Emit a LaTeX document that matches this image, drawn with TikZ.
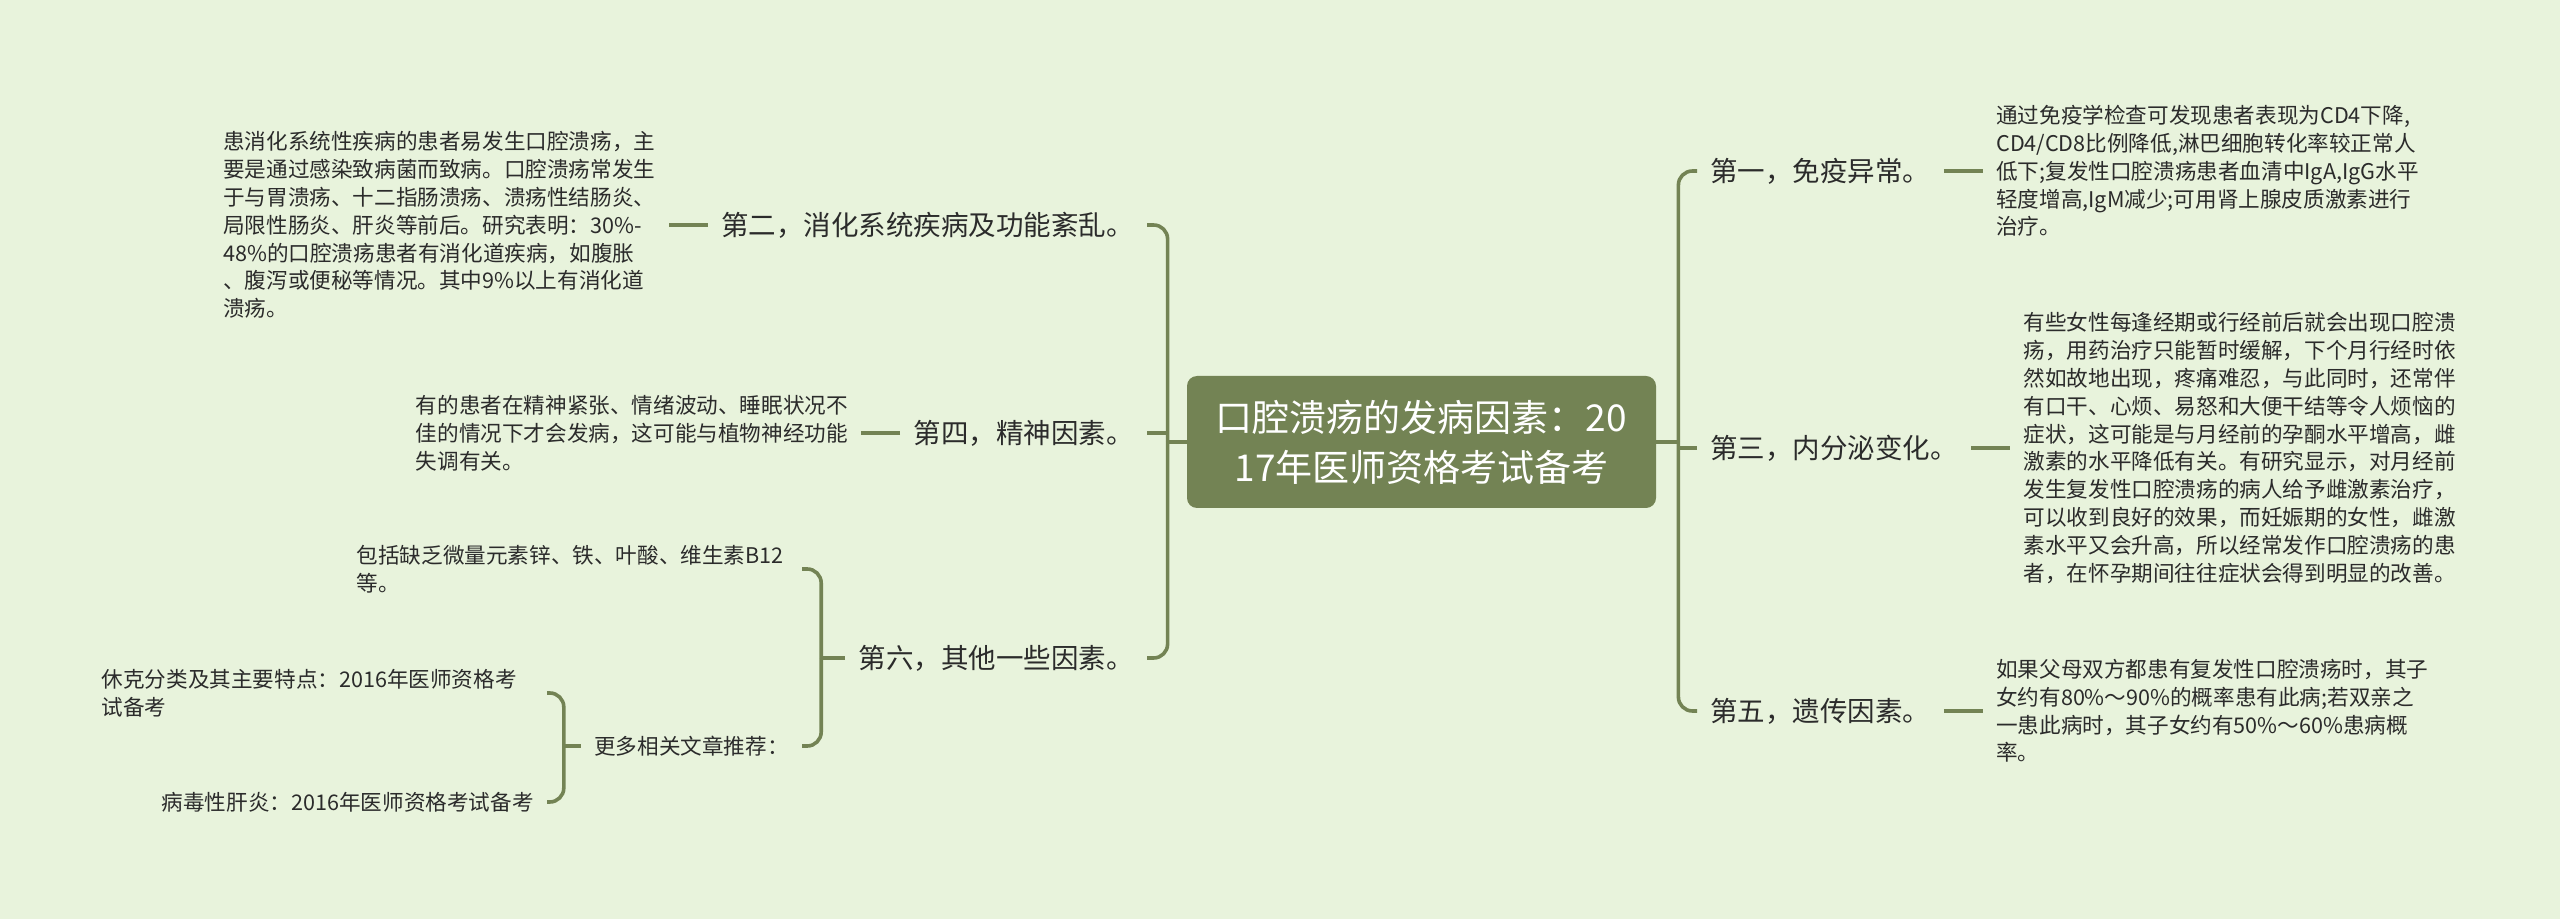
\documentclass[tikz,border=0pt]{standalone}
\usepackage{fontspec}
\setmainfont{Noto Sans CJK SC}
\usetikzlibrary{positioning}
\definecolor{mapbg}{HTML}{E8F3DC}
\definecolor{mapline}{HTML}{738354}
\definecolor{maptext}{HTML}{2B2B2B}

\begin{document}
\begin{tikzpicture}[x=0.5pt,y=-0.5pt,
  every node/.style={text=maptext},
  root/.style={fill=mapline, rounded corners=5pt, text=white, align=center,
    minimum width=234.5pt, minimum height=66pt, font=\fontsize{18.5}{25}\selectfont},
  topic/.style={inner xsep=6.5pt, inner ysep=3pt, font=\fontsize{13.75}{17}\selectfont},
  leaf/.style={inner xsep=6.5pt, inner ysep=2pt, text width=216pt, align=left,
    font=\fontsize{10.8}{13.9}\selectfont},
  note/.style={inner xsep=6.5pt, inner ysep=2pt, font=\fontsize{10.8}{13.9}\selectfont},
  link/.style={draw=mapline, line width=1.8pt, rounded corners=7pt}]
  \fill[mapbg] (0,0) rectangle (2560,919);
  \useasboundingbox (0,0) rectangle (2560,919);

  \node[root] (root) at (1421.5,442) {口腔溃疡的发病因素：20\\17年医师资格考试备考};
  \coordinate (lsp) at ([xshift=-9.5pt]root.west);
  \coordinate (rsp) at ([xshift=11pt]root.east);

  \node[topic, anchor=east] (b2) at (1147,225) {第二，消化系统疾病及功能紊乱。};
  \node[topic, anchor=east] (b4) at (1147,433) {第四，精神因素。};
  \node[topic, anchor=east] (b6) at (1147,658) {第六，其他一些因素。};
  \node[topic, anchor=west] (r1) at (1697,171) {第一，免疫异常。};
  \node[topic, anchor=west] (r3) at (1697,448) {第三，内分泌变化。};
  \node[topic, anchor=west] (r5) at (1697,711) {第五，遗传因素。};

  \node[leaf, left=19.5pt of b2] (b2t) {患消化系统性疾病的患者易发生口腔溃疡，主\\要是通过感染致病菌而致病。口腔溃疡常发生\\于与胃溃疡、十二指肠溃疡、溃疡性结肠炎、\\局限性肠炎、肝炎等前后。研究表明：30\%-\\48\%的口腔溃疡患者有消化道疾病，如腹胀\\、腹泻或便秘等情况。其中9\%以上有消化道\\溃疡。};
  \node[leaf, left=19.5pt of b4] (b4t) {有的患者在精神紧张、情绪波动、睡眠状况不\\佳的情况下才会发病，这可能与植物神经功能\\失调有关。};
  \node[leaf, right=19.5pt of r1] (r1t) {通过免疫学检查可发现患者表现为CD4下降,\\CD4/CD8比例降低,淋巴细胞转化率较正常人\\低下;复发性口腔溃疡患者血清中IgA,IgG水平\\轻度增高,IgM减少;可用肾上腺皮质激素进行\\治疗。};
  \node[leaf, right=19.5pt of r3] (r3t) {有些女性每逢经期或行经前后就会出现口腔溃\\疡，用药治疗只能暂时缓解，下个月行经时依\\然如故地出现，疼痛难忍，与此同时，还常伴\\有口干、心烦、易怒和大便干结等令人烦恼的\\症状，这可能是与月经前的孕酮水平增高，雌\\激素的水平降低有关。有研究显示，对月经前\\发生复发性口腔溃疡的病人给予雌激素治疗，\\可以收到良好的效果，而妊娠期的女性，雌激\\素水平又会升高，所以经常发作口腔溃疡的患\\者，在怀孕期间往往症状会得到明显的改善。};
  \node[leaf, right=19.5pt of r5] (r5t) {如果父母双方都患有复发性口腔溃疡时，其子\\女约有80\%～90\%的概率患有此病;若双亲之\\一患此病时，其子女约有50\%～60\%患病概\\率。};

  \coordinate (s6) at ([xshift=-12pt]b6.west);
  \node[leaf, anchor=east] (c1) at (802,569) {包括缺乏微量元素锌、铁、叶酸、维生素B12\\等。};
  \node[note, anchor=east] (c2) at (802,746) {更多相关文章推荐：};
  \coordinate (s7) at ([xshift=-8.5pt]c2.west);
  \node[leaf, anchor=east] (g1) at (547,693) {休克分类及其主要特点：2016年医师资格考\\试备考};
  \node[note, anchor=east] (g2) at (547,802) {病毒性肝炎：2016年医师资格考试备考};

  \draw[link] (root.west) -- (lsp);
  \draw[link] (lsp) |- (b2.east);
  \draw[link] (lsp) |- (b6.east);
  \draw[link] (b4.east) -- (b4.east -| lsp);
  \draw[link] (root.east) -- (rsp);
  \draw[link] (rsp) |- (r1.west);
  \draw[link] (rsp) |- (r5.west);
  \draw[link] (r3.west) -- (r3.west -| rsp);

  \draw[link] (b2.west) -- (b2t.east);
  \draw[link] (b4.west) -- (b4t.east);
  \draw[link] (r1.east) -- (r1t.west);
  \draw[link] (r3.east) -- (r3t.west);
  \draw[link] (r5.east) -- (r5t.west);

  \draw[link] (b6.west) -- (s6);
  \draw[link] (s6) |- (c1.east);
  \draw[link] (s6) |- (c2.east);
  \draw[link] (c2.west) -- (s7);
  \draw[link] (s7) |- (g1.east);
  \draw[link] (s7) |- (g2.east);
\end{tikzpicture}
\end{document}
